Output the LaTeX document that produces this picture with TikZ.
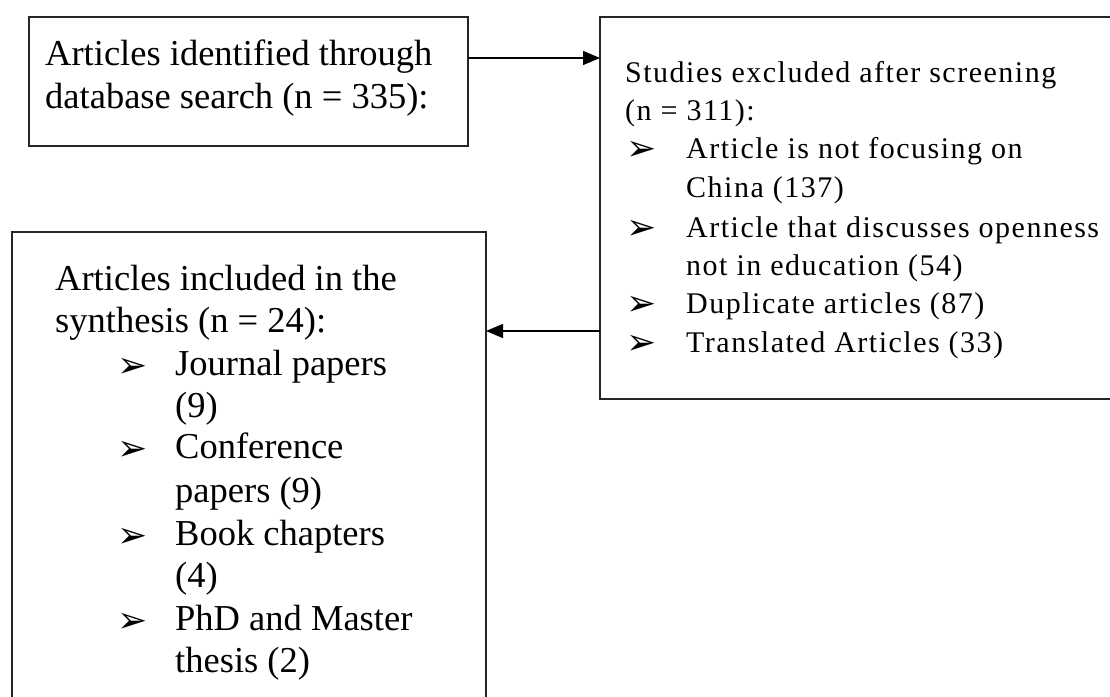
\documentclass[tikz,border=0pt]{standalone}
\usepackage{fontspec}
\setmainfont{Liberation Serif}
\newfontfamily\symf{DejaVu Sans}
\usetikzlibrary{arrows.meta}
\begin{document}
\begin{tikzpicture}[x=1pt,y=-1pt,
  box/.style={draw=black!85, line width=1.8pt, inner sep=0pt, outer sep=0pt, anchor=north west},
  arr/.style={line width=1.3pt, -{Triangle[length=17pt,width=14pt]}},
  big/.style={anchor=base west, inner sep=0pt, font=\fontsize{36.5}{40}\selectfont},
  small/.style={anchor=base west, inner sep=0pt, font=\fontsize{30}{34}\selectfont\addfontfeature{LetterSpace=5}},
  bul/.style={anchor=base west, inner sep=0pt, font=\symf\bfseries\fontsize{36}{40}\selectfont}]
\useasboundingbox (0,0) rectangle (1110,696);
\fill[white] (0,0) rectangle (1110,696);
\clip (0,0) rectangle (1110,696);
% boxes
\node[box, minimum width=439pt, minimum height=129pt] (b1) at (29,17) {};
\node[box, minimum width=540pt, minimum height=382pt] (b2) at (600,17) {};
\node[box, minimum width=474pt, minimum height=490pt] (b3) at (12,232) {};
% connectors
\draw[arr] (b1.east |- 0,58) -- (b2.west |- 0,58);
\draw[arr] (b2.west |- 0,331) -- (b3.east |- 0,331);
% box 1 text
\node[big] (t11) at (45,65) {Articles identified through};
\node[big] (t12) at (45,108) {database search (n = 335):};
% box 2 text
\node[small] (t21) at (625,82) {Studies excluded after screening};
\node[small] (t22) at (625,120) {(n = 311):};
\node[bul] (u21) at (626,160) {➢};
\node[small] (t23) at (686,158) {Article is not focusing on};
\node[small] (t24) at (686,197) {China (137)};
\node[bul] (u22) at (626,239) {➢};
\node[small] (t25) at (686,237) {Article that discusses openness};
\node[small] (t26) at (686,275) {not in education (54)};
\node[bul] (u23) at (626,315) {➢};
\node[small] (t27) at (686,313) {Duplicate articles (87)};
\node[bul] (u24) at (626,354) {➢};
\node[small] (t28) at (686,352) {Translated Articles (33)};
% box 3 text
\node[big] (t31) at (55,290) {Articles included in the};
\node[big] (t32) at (55,332) {synthesis (n = 24):};
\node[bul] (u31) at (117,377) {➢};
\node[big] (t33) at (175,375) {Journal papers};
\node[big] (t34) at (175,417) {(9)};
\node[bul] (u32) at (117,460) {➢};
\node[big] (t35) at (175,458) {Conference};
\node[big] (t36) at (175,502) {papers (9)};
\node[bul] (u33) at (117,547) {➢};
\node[big] (t37) at (175,545) {Book chapters};
\node[big] (t38) at (175,587) {(4)};
\node[bul] (u34) at (117,632) {➢};
\node[big] (t39) at (175,630) {PhD and Master};
\node[big] (t310) at (175,672) {thesis (2)};
\end{tikzpicture}
\end{document}
